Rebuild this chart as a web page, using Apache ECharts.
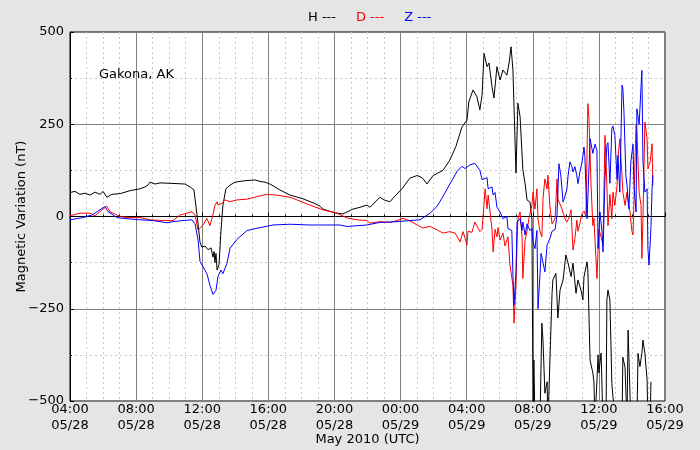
<!DOCTYPE html>
<html>
<head>
<meta charset="UTF-8">
<title>Gakona magnetometer</title>
<script src="https://cdn.jsdelivr.net/npm/echarts@6/dist/echarts.min.js"></script>
<style>
  html, body { margin: 0; padding: 0; background: #e5e5e5; }
  #main { width: 700px; height: 450px; }
</style>
</head>
<body>
<div id="main"></div>
<script>
// minutes after 04:00 05/28 (UTC), value in nT
var xLabels = ['04:00\n05/28', '08:00\n05/28', '12:00\n05/28', '16:00\n05/28', '20:00\n05/28',
               '00:00\n05/29', '04:00\n05/29', '08:00\n05/29', '12:00\n05/29', '16:00\n05/29'];
var yTicks = [-500, -250, 0, 250, 500];

var hData = [
  [0,65],[18,68],[36,60],[54,63],[73,58],[91,66],[109,60],[120,68],[134,52],[152,60],[182,62],
  [218,70],[254,75],[272,80],[283,85],[290,93],[309,88],[327,91],[363,90],[417,88],[436,80],
  [450,72],[457,70],[465,-20],[472,-70],[479,-83],[490,-80],[501,-90],[512,-85],[519,-110],
  [523,-95],[526,-125],[530,-100],[534,-145],[541,-130],[548,-40],[555,30],[566,75],[581,85],
  [599,93],[635,97],[672,99],[690,95],[708,93],[726,88],[762,72],[799,58],[846,48],[889,35],
  [908,28],[918,20],[962,10],[991,7],[1027,20],[1053,25],[1078,31],[1089,25],[1125,52],
  [1143,44],[1162,40],[1173,50],[1205,75],[1234,104],[1260,111],[1271,108],[1281,103],
  [1296,88],[1318,111],[1354,125],[1379,153],[1401,190],[1423,243],[1441,261],[1448,311],
  [1463,343],[1477,325],[1488,289],[1496,330],[1503,442],[1514,406],[1521,416],[1532,352],
  [1539,321],[1550,406],[1561,370],[1572,397],[1586,383],[1594,416],[1601,460],[1608,397],
  [1619,118],[1626,307],[1634,270],[1644,126],[1652,90],[1659,45],[1670,39],[1677,-7],
  [1681,-560],[1684,-389],[1688,-560],[1706,-560],[1713,-289],[1717,-335],[1724,-479],
  [1732,-448],[1735,-560],[1742,-560],[1750,-208],[1753,-172],[1764,-154],[1771,-275],
  [1779,-199],[1790,-172],[1800,-104],[1808,-126],[1819,-163],[1826,-126],[1837,-208],
  [1844,-172],[1855,-199],[1862,-226],[1866,-163],[1877,-123],[1880,-145],[1888,-389],
  [1898,-424],[1902,-448],[1906,-560],[1917,-375],[1920,-424],[1928,-370],[1935,-560],
  [1946,-560],[1949,-226],[1953,-199],[1960,-226],[1967,-452],[1971,-490],[1986,-560],
  [2004,-560],[2007,-381],[2015,-410],[2022,-560],[2026,-308],[2029,-381],[2036,-560],
  [2058,-560],[2062,-371],[2069,-407],[2076,-371],[2080,-335],[2087,-371],[2095,-443],
  [2098,-560],[2106,-560],[2109,-448]
];

var dData = [
  [0,2],[36,9],[73,9],[91,2],[102,9],[120,20],[134,28],[145,13],[182,0],[207,-3],[254,-3],
  [290,-9],[338,-11],[374,-11],[399,4],[425,9],[443,13],[454,4],[465,-37],[472,-41],
  [483,-23],[497,-5],[508,-25],[519,5],[526,30],[534,40],[537,31],[552,36],[563,45],
  [581,40],[606,45],[643,47],[679,54],[715,60],[751,58],[799,52],[824,45],[871,31],
  [918,18],[969,9],[1006,-4],[1042,-9],[1078,-11],[1089,-18],[1125,-14],[1162,-16],
  [1187,-11],[1209,-5],[1234,-12],[1260,-23],[1281,-31],[1307,-27],[1332,-36],[1354,-45],
  [1379,-41],[1398,-45],[1416,-69],[1427,-41],[1441,-77],[1445,-40],[1459,-43],[1470,-15],
  [1488,-41],[1496,-35],[1507,75],[1514,21],[1518,58],[1525,12],[1532,-35],[1536,-96],
  [1543,-35],[1550,-55],[1554,-30],[1561,-64],[1572,-45],[1579,-80],[1590,-55],[1597,-131],
  [1608,-186],[1612,-289],[1619,-186],[1623,-64],[1626,-6],[1634,12],[1641,-55],[1644,-168],
  [1652,-64],[1659,-40],[1666,-6],[1677,31],[1681,66],[1688,20],[1695,75],[1699,-6],
  [1706,-41],[1713,-55],[1717,48],[1724,102],[1732,75],[1735,112],[1742,30],[1750,-20],
  [1761,-6],[1768,102],[1771,48],[1786,20],[1797,-6],[1804,-15],[1811,-5],[1819,18],
  [1826,-91],[1833,-60],[1840,-10],[1844,-40],[1851,-35],[1859,8],[1866,15],[1873,0],
  [1880,306],[1884,265],[1891,94],[1898,-25],[1902,-5],[1909,-10],[1913,-168],[1920,-35],
  [1928,-55],[1935,-77],[1942,220],[1949,85],[1953,-25],[1960,60],[1967,-6],[1971,66],
  [1978,30],[1986,85],[1989,157],[1996,211],[2004,110],[2007,66],[2015,30],[2022,66],
  [2026,40],[2033,12],[2040,-41],[2044,-50],[2051,150],[2055,247],[2058,230],[2066,66],
  [2073,30],[2076,-114],[2080,-6],[2087,256],[2095,211],[2098,129],[2106,148],[2113,197],
  [2116,85]
];

var zData = [
  [0,-9],[47,-3],[83,5],[116,22],[127,27],[138,13],[171,-3],[207,-6],[254,-9],[301,-11],
  [352,-17],[374,-14],[410,-11],[443,-9],[454,-20],[465,-64],[472,-122],[483,-136],
  [497,-155],[508,-186],[519,-211],[530,-200],[537,-163],[548,-145],[555,-155],[570,-127],
  [581,-86],[606,-62],[643,-38],[679,-32],[737,-23],[799,-21],[871,-23],[980,-23],
  [1006,-27],[1078,-23],[1125,-16],[1187,-14],[1234,-11],[1271,-9],[1307,9],[1332,27],
  [1354,54],[1379,88],[1405,122],[1423,136],[1434,130],[1452,140],[1470,144],[1488,125],
  [1496,100],[1514,105],[1518,75],[1532,80],[1536,58],[1543,65],[1550,25],[1561,12],
  [1572,-6],[1586,0],[1590,-33],[1604,-38],[1608,-159],[1612,-240],[1619,-150],[1623,-15],
  [1634,-5],[1641,-38],[1644,-15],[1652,-50],[1659,-20],[1663,-15],[1670,-38],[1677,-32],
  [1681,-69],[1688,-87],[1695,-38],[1699,-250],[1706,-160],[1710,-100],[1713,-110],
  [1724,-150],[1732,-77],[1742,-60],[1750,-40],[1761,-35],[1768,5],[1775,143],[1782,110],
  [1790,39],[1797,55],[1804,75],[1808,110],[1815,148],[1822,135],[1826,121],[1833,135],
  [1840,110],[1844,89],[1851,121],[1859,148],[1866,188],[1869,165],[1877,-6],[1880,50],
  [1888,211],[1895,206],[1898,171],[1906,196],[1913,178],[1917,-87],[1924,12],[1931,-40],
  [1935,-96],[1942,100],[1949,193],[1953,200],[1960,90],[1967,238],[1971,245],[1978,220],
  [1986,100],[1989,165],[1996,66],[2004,356],[2007,347],[2011,283],[2018,112],[2022,85],
  [2029,21],[2036,148],[2044,196],[2047,90],[2055,12],[2058,292],[2066,250],[2069,292],
  [2076,396],[2080,150],[2087,66],[2095,75],[2098,-87],[2102,-132],[2109,-30],[2113,75],
  [2116,112]
];

var font = 'DejaVu Sans';
var myChart = echarts.init(document.getElementById('main'));

function line(name, color, data) {
    return {
        name: name,
        type: 'line',
        data: data,
        showSymbol: false,
        clip: true,
        lineStyle: { color: color, width: 1 },
        itemStyle: { color: color }
    };
}

myChart.setOption({
    animation: false,
    backgroundColor: '#e5e5e5',
    textStyle: { fontFamily: font },
    title: {
        text: 'Gakona, AK',
        left: 94,
        top: 63,
        textStyle: { fontFamily: font, fontSize: 13, fontWeight: 'normal', color: '#000' }
    },
    legend: {
        left: 298,
        top: 6,
        icon: 'none',
        itemWidth: 0,
        itemGap: 15,
        formatter: function (name) { return name + ' ---'; },
        data: [
            { name: 'H', textStyle: { color: '#000' } },
            { name: 'D', textStyle: { color: '#ff0000' } },
            { name: 'Z', textStyle: { color: '#0000ff' } }
        ],
        textStyle: { fontFamily: font, fontSize: 13 }
    },
    grid: {
        left: 70, right: 35, top: 32, bottom: 49,
        containLabel: false,
        outerBoundsMode: 'none',
        show: true, backgroundColor: '#fff', borderColor: '#000', borderWidth: 1
    },
    xAxis: {
        type: 'value',
        min: 0, max: 2160, interval: 240,
        name: 'May 2010 (UTC)',
        nameLocation: 'middle',
        nameGap: 32,
        nameMoveOverlap: false,
        nameTextStyle: { fontFamily: font, fontSize: 13, color: '#000' },
        axisLine: { show: true, lineStyle: { color: '#000' } },
        axisTick: { show: true, inside: true, length: 4, lineStyle: { color: '#000' } },
        minorTick: { show: true, splitNumber: 4, length: 2, lineStyle: { color: '#000' } },
        axisLabel: {
            fontFamily: font, fontSize: 13, color: '#000', margin: 1, lineHeight: 16,
            formatter: function (v) { return xLabels[Math.round(v / 240)]; }
        },
        splitLine: { show: true, lineStyle: { color: '#7f7f7f', width: 1 } },
        minorSplitLine: { show: true, lineStyle: { color: '#c8c8c8', type: [2, 3], width: 1 } }
    },
    yAxis: {
        type: 'value',
        min: yTicks[0], max: yTicks[yTicks.length - 1], interval: 250,
        name: 'Magnetic Variation (nT)',
        nameLocation: 'middle',
        nameGap: 42,
        nameMoveOverlap: false,
        nameTextStyle: { fontFamily: font, fontSize: 13, color: '#000' },
        axisLine: { show: true, lineStyle: { color: '#000' } },
        axisTick: { show: true, inside: true, length: 4, lineStyle: { color: '#000' } },
        minorTick: { show: true, splitNumber: 2, length: 2, lineStyle: { color: '#000' } },
        axisLabel: {
            fontFamily: font, fontSize: 13, color: '#000', margin: 6,
            formatter: function (v) { return String(v).replace('-', '\u2212'); }
        },
        splitLine: { show: true, lineStyle: { color: '#7f7f7f', width: 1 } },
        minorSplitLine: { show: true, lineStyle: { color: '#c8c8c8', type: [2, 3], width: 1 } }
    },
    series: [
        line('H', '#000000', hData),
        line('D', '#ff0000', dData),
        line('Z', '#0000ff', zData)
    ]
});
</script>
</body>
</html>
